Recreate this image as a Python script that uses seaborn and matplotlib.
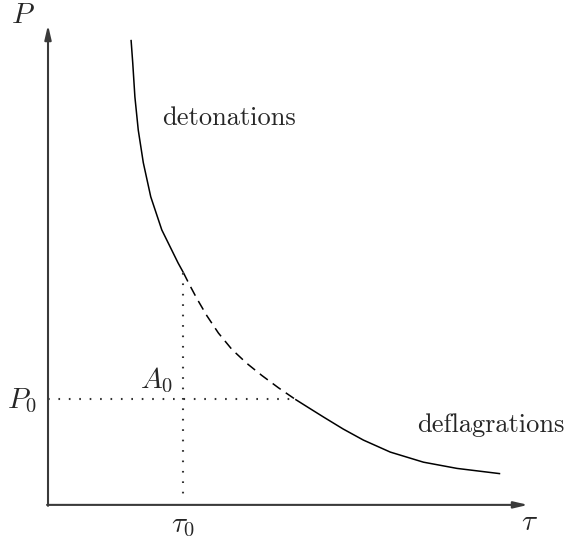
import numpy as np
import pandas as pd
import matplotlib
matplotlib.use("Agg")
import matplotlib.pyplot as plt
import seaborn as sns

# Hugoniot curve (tau, P)
tau_det = [1.73, 1.765, 1.81, 1.88, 1.985, 2.14, 2.37, 2.71, 2.82]
p_det = [9.69, 9.21, 8.50, 7.81, 7.13, 6.42, 5.73, 5.04, 4.84]
tau_mid = [2.82, 2.93, 3.10, 3.31, 3.55, 3.83, 4.14, 4.45, 4.80, 5.15]
p_mid = [4.84, 4.62, 4.30, 3.94, 3.58, 3.24, 2.95, 2.70, 2.44, 2.20]
tau_def = [5.15, 5.42, 5.74, 6.15, 6.57, 7.13, 7.82, 8.52, 9.42]
p_def = [2.20, 2.03, 1.83, 1.58, 1.35, 1.10, 0.89, 0.76, 0.65]

tau0 = 2.82
p0 = 2.20
tau_max = 10.0
p_max = 10.0

sns.set_style("white")
plt.rcParams["mathtext.fontset"] = "cm"
plt.rcParams["font.family"] = ["cmr10", "DejaVu Serif"]
plt.rcParams["axes.unicode_minus"] = False

fig = plt.figure(figsize=(5.66, 5.38), dpi=100)
ax = fig.add_axes([0, 0, 1, 1])

det = pd.DataFrame({"tau": tau_det, "P": p_det})
mid = pd.DataFrame({"tau": tau_mid, "P": p_mid})
dfl = pd.DataFrame({"tau": tau_def, "P": p_def})

line_kw = dict(color="black", lw=1.1, estimator=None, ax=ax,
               solid_joinstyle="round", solid_capstyle="butt")
sns.lineplot(data=det, x="tau", y="P", **line_kw)
sns.lineplot(data=mid, x="tau", y="P", **line_kw).lines[-1].set_dashes((6.5, 4))
sns.lineplot(data=dfl, x="tau", y="P", **line_kw)

# dotted guides to the initial state A0
dot_kw = dict(color="#333333", lw=1.5, dashes=(0.8, 4.2), dash_capstyle="butt")
ax.plot([0, tau_mid[-1]], [p0, p0], **dot_kw)
ax.plot([tau0, tau0], [p_det[-1], 0.17], **dot_kw)

# axes with arrows
arrow = dict(arrowstyle="-|>,head_length=0.6,head_width=0.14", color="#3a3a3a",
             lw=1.5, mutation_scale=14, shrinkA=0, shrinkB=0)
ax.annotate("", xy=(tau_max, 0), xytext=(-0.02, 0), arrowprops=arrow)
ax.annotate("", xy=(0, p_max), xytext=(0, -0.02), arrowprops=arrow)

ax.text(-0.52, 10.2, r"$P$", fontsize=21, ha="center", va="center")
ax.text(10.02, -0.38, r"$\tau$", fontsize=21, ha="center", va="center")
ax.text(-0.22, p0 - 0.03, r"$P_0$", fontsize=21, ha="right", va="center")
ax.text(tau0, -0.43, r"$\tau_0$", fontsize=21, ha="center", va="center")
ax.text(2.27, 2.6, r"$A_0$", fontsize=21, ha="center", va="center")
ax.text(3.77, 8.06, "detonations", fontsize=19, ha="center", va="center")
ax.text(9.23, 1.67, "deflagrations", fontsize=19, ha="center", va="center")

ax.set_xlim(-1.0, 10.79)
ax.set_ylim(-0.69, 10.52)
ax.set_xlabel("")
ax.set_ylabel("")
ax.axis("off")

fig.savefig("out.png", dpi=100)
